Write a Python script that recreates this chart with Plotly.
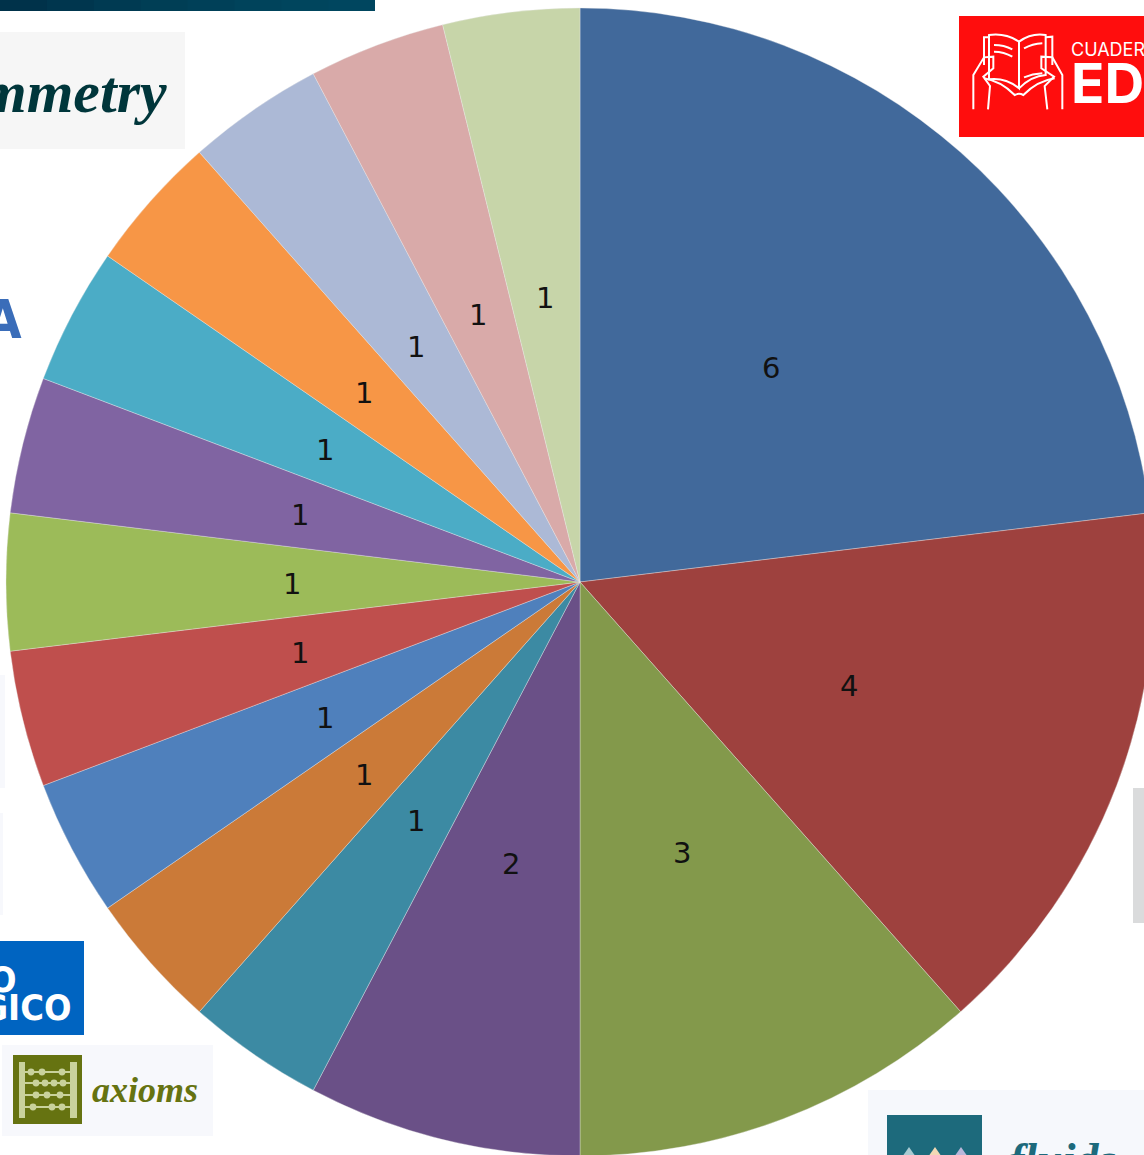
import math
import plotly.graph_objects as go

slice_values = [6, 4, 3, 2, 1, 1, 1, 1, 1, 1, 1, 1, 1, 1, 1]
slice_names = [f"Revista {i}" for i in range(1, 16)]
slice_colors = ["#41699B", "#9E413E", "#83994B", "#6A5087", "#3C8AA3", "#CB7A38", "#4F80BC", "#BF4F4D",
                "#9CBB59", "#8064A2", "#4BACC6", "#F79646", "#ACB9D6", "#D9AAA9", "#C7D5A9"]

W, H = 1160, 1160
CX, CY, R, LR = 580, 582, 574, 288
NARROW = "DejaVu Sans Condensed, Liberation Sans"


def dom(cx, cy, r):
    return dict(x=[(cx - r) / W, (cx + r) / W], y=[1 - (cy + r) / H, 1 - (cy - r) / H])


def px(x, y):
    return f"{x / W:.5f} {1 - y / H:.5f}"


def rect(x0, y0, x1, y1, color):
    return dict(type="rect", xref="paper", yref="paper", x0=x0 / W, x1=x1 / W, y0=1 - y0 / H, y1=1 - y1 / H,
                fillcolor=color, line_width=0, layer="below")


def oval(cx, cy, r, color):
    return dict(type="circle", xref="paper", yref="paper", x0=(cx - r) / W, x1=(cx + r) / W,
                y0=1 - (cy + r) / H, y1=1 - (cy - r) / H, fillcolor=color, line_width=0, layer="below")


def path(cmds, color, width=2, fill=None, ox=0.0, oy=0.0, k=1.0):
    out = []
    for c in cmds:
        op, pts = c[0], c[1:]
        if op == "Z":
            out.append("Z")
        elif op == "L":
            out += ["L " + px(ox + a * k, oy + b * k) for a, b in pts]
        else:
            out.append(op + " " + " ".join(px(ox + a * k, oy + b * k) for a, b in pts))
    d = dict(type="path", xref="paper", yref="paper", path=" ".join(out), layer="below",
             line=dict(color=color, width=width))
    if fill:
        d["fillcolor"] = fill
    return d


def note(x, y, text, size, color, family, xanchor="left", bold=False, italic=False):
    t = f"<b>{text}</b>" if bold else text
    t = f"<i>{t}</i>" if italic else t
    return dict(x=x / W, y=1 - y / H, xref="paper", yref="paper", text=t, showarrow=False, xanchor=xanchor,
                yanchor="middle", font=dict(size=size, color=color, family=family), borderpad=0)


shapes = []
bar_cols = ["#00324A", "#00364E", "#003A52", "#003E55", "#004058", "#00435B", "#00455D", "#00465F"]
for i, c in enumerate(bar_cols):
    shapes.append(rect(i * 46.875, 0, 375, 11, c))
shapes += [
    rect(0, 32, 185, 149, "#F6F6F6"),
    rect(959, 16, 1160, 137, "#FF0D0D"),
    rect(0, 675, 5, 788, "#F7F8FC"),
    rect(0, 813, 3, 915, "#F7F8FC"),
    rect(1133, 788, 1160, 923, "#DADBDC"),
    rect(0, 941, 84, 1035, "#0064C1"),
    rect(2, 1045, 213, 1136, "#F7F8FC"),
    rect(13, 1055, 82, 1124, "#667311"),
    rect(868, 1090, 1160, 1160, "#F6F8FC"),
    rect(887, 1115, 982, 1160, "#1D6A7C"),
]

# open book held in two hands (logo drawn in the 3x crop's units)
book = [
    [("M", (135, 105)), ("Q", (185, 98), (225, 125)), ("L", (225, 265)), ("Q", (185, 232), (135, 238)), ("Z",)],
    [("M", (225, 125)), ("Q", (262, 98), (305, 105)), ("L", (305, 225)), ("Q", (262, 228), (225, 265))],
    [("M", (135, 112)), ("L", (120, 112), (120, 195))],
    [("M", (305, 112)), ("L", (325, 110), (325, 195))],
    [("M", (120, 235)), ("Q", (170, 243), (212, 285)), ("Q", (225, 278), (238, 285)), ("Q", (280, 243), (332, 235))],
    [("M", (88, 328)), ("L", (88, 225), (120, 172), (148, 170), (148, 205), (118, 230), (138, 258), (132, 328))],
    [("M", (355, 328)), ("L", (355, 225), (325, 172), (292, 170), (292, 205), (330, 230), (302, 258), (310, 328))],
    [("M", (150, 135)), ("Q", (180, 135), (205, 148))],
    [("M", (150, 155)), ("Q", (180, 155), (205, 170))],
    [("M", (240, 145)), ("Q", (265, 132), (295, 130))],
    [("M", (240, 232)), ("Q", (265, 222), (295, 220))],
]
for cmds in book:
    shapes.append(path(cmds, "#FFFFFF", 2, ox=944, oy=0, k=1 / 3))

# abacus logo
pale = "#C9D29C"
shapes += [rect(19, 1062, 25, 1118, pale), rect(70, 1062, 77, 1118, pale)]
rails = [(1072, [31, 42, 62]), (1083, [36, 45, 54, 63]), (1095, [36, 47, 60]), (1107, [33, 52, 62])]
for y, beads in rails:
    shapes.append(rect(25, y - 1, 70, y + 1, pale))
    for b in beads:
        shapes.append(oval(b, y, 3.4, pale))

# peaks in the fluids logo
for x, c in [(909, "#A9CBD2"), (935, "#F2D9B5"), (961, "#B9B7DA")]:
    shapes.append(path([("M", (x - 9, 1160)), ("L", (x, 1147), (x + 9, 1160)), ("Z",)], c, 0, fill=c))

annotations = [
    note(168, 92, "Symmetry", 60, "#00363B", "Liberation Serif", "right", True, True),
    note(-17, 319, "A", 54, "#3A6DB9", NARROW, "left", True),
    note(1070, 49, "CUADERNOS", 18, "#FFFFFF", "Inter"),
    note(1070, 83, "EDU", 55, "#FFFFFF", "Inter", "left", True),
    note(18, 979, "O", 36, "#FFFFFF", NARROW, "right", True),
    note(72, 1007, "ÓGICO", 36, "#FFFFFF", NARROW, "right", True),
    note(91, 1090, "axioms", 36, "#667311", "Liberation Serif", "left", True, True),
    note(1008, 1159, "fluids", 46, "#1D6A7C", "Liberation Serif", "left", True, True),
]

# slice value labels sit half-way along each slice's mid angle
total = sum(slice_values)
running = 0
for v in slice_values:
    mid = (running + v / 2) / total * 2 * math.pi
    running += v
    annotations.append(note(CX + LR * math.sin(mid), CY + 2 - LR * math.cos(mid), str(v), 29, "#111111",
                            "DejaVu Sans", "center"))

pie = go.Pie(
    labels=slice_names, values=slice_values, sort=False, direction="clockwise", rotation=0,
    marker=dict(colors=slice_colors, line=dict(color="rgba(235,235,235,0.6)", width=0.6)),
    textinfo="none", hoverinfo="label+value", domain=dom(CX, CY, R), showlegend=False,
)

fig = go.Figure([pie])
fig.update_layout(width=W, height=H, margin=dict(l=0, r=0, t=0, b=0), paper_bgcolor="#FFFFFF",
                  shapes=shapes, annotations=annotations)
fig.write_html("out.html", config=dict(displayModeBar=False),
               post_script="document.body.style.margin='0';document.body.style.overflow='hidden';"
               "document.documentElement.style.overflow='hidden';")
